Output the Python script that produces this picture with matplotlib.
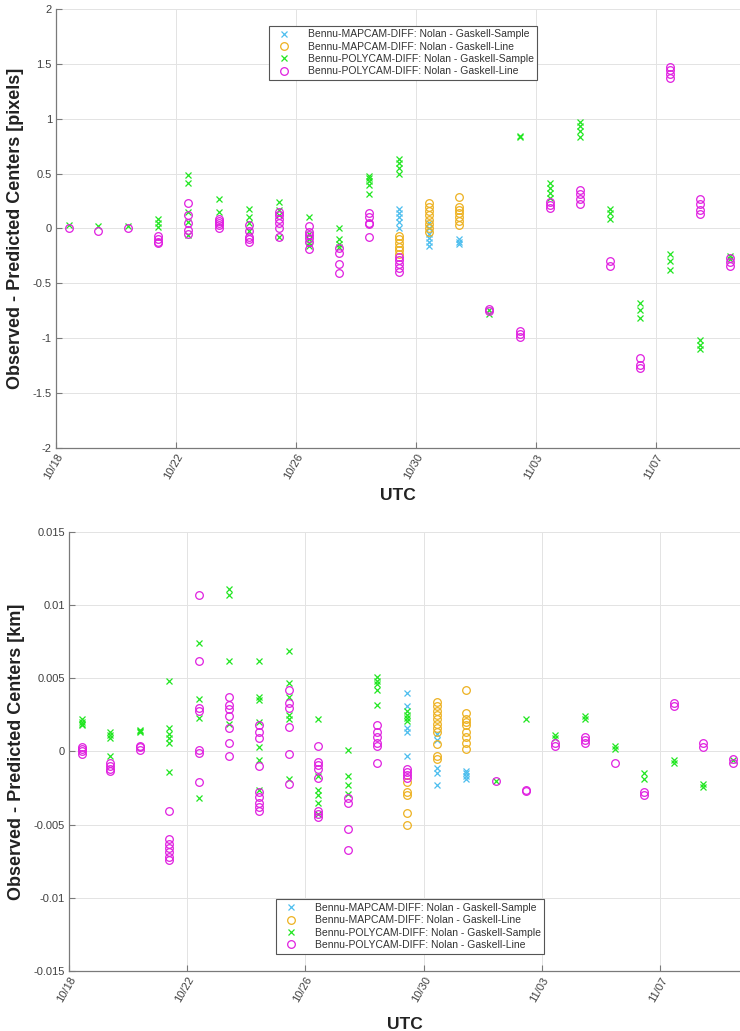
import matplotlib
matplotlib.use("Agg")
import matplotlib.pyplot as plt
import matplotlib.dates as mdates
from matplotlib.ticker import FuncFormatter, FixedLocator
import pandas as pd

plt.rcParams['font.family'] = ['Liberation Sans', 'DejaVu Sans']

# ---------------- data ----------------
OBS_TIMES = ['2018-10-18 10:30', '2018-10-19 09:30', '2018-10-20 09:30', '2018-10-21 09:30',
             '2018-10-22 09:30', '2018-10-23 10:00', '2018-10-24 10:00', '2018-10-25 10:20',
             '2018-10-26 10:20', '2018-10-27 10:20', '2018-10-28 10:20', '2018-10-29 10:40',
             '2018-10-30 10:40', '2018-10-31 10:40', '2018-11-01 10:40', '2018-11-02 10:50',
             '2018-11-03 10:50', '2018-11-04 10:50', '2018-11-05 11:00', '2018-11-06 11:00',
             '2018-11-07 11:00', '2018-11-08 11:00', '2018-11-09 11:00']

LABELS = ['Bennu-MAPCAM-DIFF: Nolan - Gaskell-Sample',
          'Bennu-MAPCAM-DIFF: Nolan - Gaskell-Line',
          'Bennu-POLYCAM-DIFF: Nolan - Gaskell-Sample',
          'Bennu-POLYCAM-DIFF: Nolan - Gaskell-Line']

# Top panel (pixels): column index -> values
PX_MAP_SAMPLE_COLS = [11, 12, 13]
PX_MAP_SAMPLE_VALS = [[0.18, 0.14, 0.10, 0.06, 0.0],
                      [0.05, 0.0, -0.05, -0.09, -0.12, -0.16],
                      [-0.10, -0.12, -0.14]]
PX_MAP_LINE_COLS = [11, 12, 13]
PX_MAP_LINE_VALS = [[-0.07, -0.10, -0.13, -0.17, -0.20, -0.23],
                    [0.23, 0.20, 0.16, 0.12, 0.08, 0.04, 0.0, -0.03],
                    [0.29, 0.20, 0.17, 0.14, 0.10, 0.07, 0.03]]
PX_POLY_SAMPLE_COLS = [0, 1, 2, 3, 4, 5, 6, 7, 8, 9, 10, 11, 14, 15, 16, 17, 18, 19, 20, 21, 22]
PX_POLY_SAMPLE_VALS = [[0.03], [0.02], [0.02], [0.09, 0.05, 0.01],
                       [0.49, 0.41, 0.15, 0.06, -0.06], [0.27, 0.15],
                       [0.18, 0.10, 0.05, -0.02], [0.24, 0.17, 0.12, -0.08],
                       [0.10, -0.05, -0.10, -0.13, -0.16], [0.0, -0.10, -0.14, -0.17],
                       [0.48, 0.46, 0.43, 0.40, 0.31], [0.63, 0.60, 0.55, 0.50],
                       [-0.74, -0.78], [0.84, 0.83], [0.41, 0.37, 0.32, 0.28],
                       [0.97, 0.93, 0.89, 0.83], [0.18, 0.14, 0.09],
                       [-0.68, -0.74, -0.82], [-0.23, -0.30, -0.38],
                       [-1.02, -1.06, -1.10], [-0.25, -0.28]]
PX_POLY_LINE_COLS = [0, 1, 2, 3, 4, 5, 6, 7, 8, 9, 10, 11, 14, 15, 16, 17, 18, 19, 20, 21, 22]
PX_POLY_LINE_VALS = [[0.0], [-0.02], [0.0], [-0.07, -0.10, -0.12, -0.13],
                     [0.23, 0.12, 0.05, -0.01, -0.05], [0.09, 0.07, 0.05, 0.03, 0.0],
                     [0.03, -0.02, -0.08, -0.10, -0.12], [0.15, 0.12, 0.09, 0.05, 0.0, -0.08],
                     [0.02, -0.03, -0.06, -0.09, -0.12, -0.19], [-0.18, -0.22, -0.32, -0.41],
                     [0.14, 0.10, 0.05, 0.04, -0.08], [-0.26, -0.29, -0.32, -0.36, -0.40],
                     [-0.73, -0.75], [-0.93, -0.96, -0.99], [0.24, 0.21, 0.19],
                     [0.35, 0.31, 0.27, 0.22], [-0.30, -0.34], [-1.18, -1.24, -1.27],
                     [1.47, 1.44, 1.41, 1.37], [0.27, 0.22, 0.17, 0.13], [-0.27, -0.31, -0.34]]

# Bottom panel (km)
KM_MAP_SAMPLE_COLS = [11, 12, 13]
KM_MAP_SAMPLE_VALS = [[0.0040, 0.0031, 0.0016, 0.0013, -0.0003],
                      [0.0012, 0.0008, -0.0011, -0.0015, -0.0023],
                      [-0.0013, -0.0015, -0.0017, -0.0019]]
KM_MAP_LINE_COLS = [11, 12, 13]
KM_MAP_LINE_VALS = [[-0.0021, -0.0028, -0.0030, -0.0042, -0.0050],
                    [0.0034, 0.0031, 0.0028, 0.0025, 0.0022, 0.0019, 0.0016, 0.0013, 0.0005, -0.0003, -0.0005],
                    [0.0042, 0.0026, 0.0022, 0.0020, 0.0018, 0.0013, 0.0010, 0.0006, 0.0002]]
KM_POLY_SAMPLE_COLS = [0, 1, 2, 3, 4, 5, 6, 7, 8, 9, 10, 11, 14, 15, 16, 17, 18, 19, 20, 21, 22]
KM_POLY_SAMPLE_VALS = [[0.0022, 0.0020, 0.0019, 0.0018], [0.0013, 0.0011, 0.0009, -0.0003],
                       [0.0015, 0.0014, 0.0013], [0.0048, 0.0016, 0.0012, 0.0009, 0.0006, -0.0014],
                       [0.0074, 0.0036, 0.0023, -0.0032], [0.0111, 0.0107, 0.0062, 0.0019],
                       [0.0062, 0.0037, 0.0035, 0.0020, 0.0003, -0.0006, -0.0026],
                       [0.0069, 0.0047, 0.0037, 0.0025, 0.0022, -0.0019],
                       [0.0022, -0.0017, -0.0026, -0.0030, -0.0035, -0.0043],
                       [0.0001, -0.0017, -0.0023, -0.0029],
                       [0.0051, 0.0048, 0.0046, 0.0042, 0.0032],
                       [0.0028, 0.0025, 0.0023, 0.0021],
                       [-0.0020], [0.0022], [0.0011, 0.0009], [0.0024, 0.0022],
                       [0.0004, 0.0002], [-0.0015, -0.0019], [-0.0006, -0.0008],
                       [-0.0022, -0.0024], [-0.0006]]
KM_POLY_LINE_COLS = [0, 1, 2, 3, 4, 5, 6, 7, 8, 9, 10, 11, 14, 15, 16, 17, 18, 19, 20, 21, 22]
KM_POLY_LINE_VALS = [[0.0003, 0.00015, 0.0, -0.0002], [-0.0008, -0.0010, -0.0012, -0.0013],
                     [0.0004, 0.0003, 0.0001],
                     [-0.0041, -0.0060, -0.0063, -0.0066, -0.0069, -0.0072, -0.0074],
                     [0.0107, 0.0062, 0.0030, 0.0028, 0.0001, -0.0001, -0.0021],
                     [0.0037, 0.0032, 0.0029, 0.0024, 0.0016, 0.0006, -0.0003],
                     [0.0018, 0.0013, 0.0009, -0.0010, -0.0028, -0.0031, -0.0035, -0.0038, -0.0041],
                     [0.0042, 0.0033, 0.0030, 0.0017, -0.0002, -0.0022],
                     [0.0004, -0.0007, -0.0009, -0.0012, -0.0018, -0.0041, -0.0043, -0.0045],
                     [-0.0032, -0.0035, -0.0053, -0.0067],
                     [0.0018, 0.0013, 0.0010, 0.0006, 0.0004, -0.0008],
                     [-0.0012, -0.0014, -0.0016, -0.0018],
                     [-0.0020], [-0.0026, -0.0027], [0.0006, 0.0004], [0.0010, 0.0008, 0.0006],
                     [-0.0008], [-0.0028, -0.0030], [0.0033, 0.0031], [0.0006, 0.0003],
                     [-0.0005, -0.0008]]

TICK_DATES = ['2018-10-18', '2018-10-22', '2018-10-26', '2018-10-30', '2018-11-03', '2018-11-07']
TICK_LABELS = ['10/18', '10/22', '10/26', '10/30', '11/03', '11/07']
PX_YTICKS = [-2, -1.5, -1, -0.5, 0, 0.5, 1, 1.5, 2]
KM_YTICKS = [-0.015, -0.01, -0.005, 0, 0.005, 0.01, 0.015]

# ---------------- style ----------------
COLORS = ['#4DBEEE', '#EDB120', '#22E622', '#E020E0']
MARKERS = ['x', 'o', 'x', 'o']
SIZES = [4.5, 5.5, 4.5, 5.5]
times = pd.to_datetime(OBS_TIMES)


def flatten(cols, vals):
    xs, ys = [], []
    for c, v in zip(cols, vals):
        for y in v:
            xs.append(times[c])
            ys.append(y)
    return xs, ys


def panel(ax, series, yticks, ylabel, xmax_days, leg_anchor, xlabelpad):
    handles = []
    for (cols, vals), col, mk, ms, lab in zip(series, COLORS, MARKERS, SIZES, LABELS):
        xs, ys = flatten(cols, vals)
        h, = ax.plot(xs, ys, linestyle='none', marker=mk, ms=ms, mfc='none',
                     mec=col, mew=0.9, label=lab)
        handles.append(h)
    x0 = pd.Timestamp('2018-10-18')
    ax.set_xlim(x0, x0 + pd.Timedelta(days=xmax_days))
    ax.set_ylim(yticks[0], yticks[-1])
    ax.xaxis.set_major_locator(FixedLocator(mdates.date2num(pd.to_datetime(TICK_DATES))))
    ax.set_xticklabels(TICK_LABELS, rotation=60, ha='right', rotation_mode='anchor')
    ax.set_yticks(yticks)
    ax.yaxis.set_major_formatter(FuncFormatter(lambda v, p: ('%g' % v) if abs(v) > 1e-12 else '0'))
    ax.grid(True, color='#e3e3e3', linewidth=0.7)
    ax.set_axisbelow(True)
    for s in ['top', 'right']:
        ax.spines[s].set_visible(False)
    for s in ['left', 'bottom']:
        ax.spines[s].set_color('#7a7a7a')
        ax.spines[s].set_linewidth(0.9)
    ax.tick_params(direction='in', length=4, width=0.8, color='#7a7a7a',
                   labelsize=8, labelcolor='#404040', pad=3)
    ax.set_ylabel(ylabel, fontsize=13, fontweight='bold', color='#222222')
    ax.set_xlabel('UTC', fontsize=12.5, fontweight='bold', color='#222222', labelpad=xlabelpad)
    leg = ax.legend(handles=handles, loc='upper left', bbox_to_anchor=leg_anchor,
                    fontsize=7.5, frameon=True, fancybox=False, edgecolor='#555555',
                    framealpha=1, labelspacing=0.22, handletextpad=1.2, handlelength=2.2,
                    borderpad=0.35, borderaxespad=0)
    leg.get_frame().set_linewidth(0.8)
    for t in leg.get_texts():
        t.set_color('#333333')


fig = plt.figure(figsize=(7.40, 10.31), dpi=100)
ax1 = fig.add_axes([0.0757, 0.5655, 0.9243, 0.4258])
ax2 = fig.add_axes([0.0932, 0.0582, 0.9068, 0.4258])

panel(ax1, [(PX_MAP_SAMPLE_COLS, PX_MAP_SAMPLE_VALS), (PX_MAP_LINE_COLS, PX_MAP_LINE_VALS),
            (PX_POLY_SAMPLE_COLS, PX_POLY_SAMPLE_VALS), (PX_POLY_LINE_COLS, PX_POLY_LINE_VALS)],
      PX_YTICKS, 'Observed - Predicted Centers [pixels]', 22.8, (0.311, 0.962), 5)
panel(ax2, [(KM_MAP_SAMPLE_COLS, KM_MAP_SAMPLE_VALS), (KM_MAP_LINE_COLS, KM_MAP_LINE_VALS),
            (KM_POLY_SAMPLE_COLS, KM_POLY_SAMPLE_VALS), (KM_POLY_LINE_COLS, KM_POLY_LINE_VALS)],
      KM_YTICKS, 'Observed - Predicted Centers [km]', 22.7, (0.308, 0.163), 9)

ax1.yaxis.set_label_coords(-0.047, 0.5)
ax2.yaxis.set_label_coords(-0.066, 0.5)

fig.savefig('out.png', dpi=100)
